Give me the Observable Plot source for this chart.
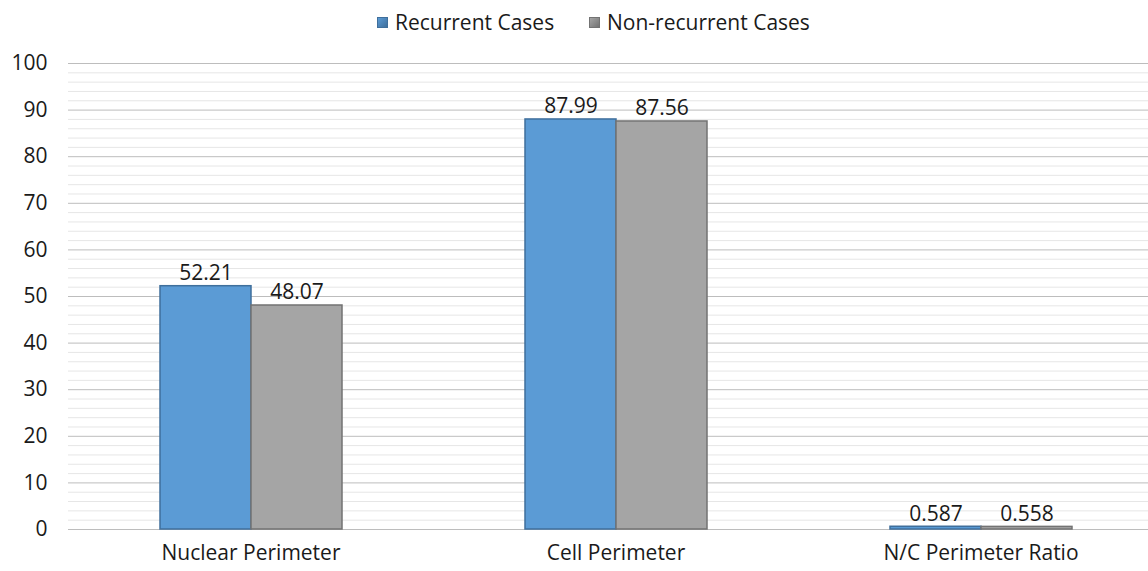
<!DOCTYPE html>
<html>
<head>
<meta charset="utf-8">
<script src="https://cdn.jsdelivr.net/npm/d3@7"></script>
<script src="https://cdn.jsdelivr.net/npm/@observablehq/plot@0.6"></script>
<style>
  html, body { margin: 0; padding: 0; background: #fff; }
  body { width: 1148px; height: 571px; overflow: hidden; font-family: "Open Sans", "Noto Sans", sans-serif; position: relative; }
  #legend { height: 44px; position: relative; font-size: 21px; color: #1a1a1a; }
  .item { position: absolute; top: 10px; display: flex; align-items: center; line-height: 24px; }
  .sw { width: 11px; height: 11px; margin-right: 7px; box-sizing: border-box; }
  #chart svg { max-width: none !important; overflow: visible; }
</style>
</head>
<body>
<div id="legend"></div>
<div id="chart"></div>
<script>
const categories = ["Nuclear Perimeter", "Cell Perimeter", "N/C Perimeter Ratio"];
const series = ["Recurrent Cases", "Non-recurrent Cases"];
const recurrent = [52.21, 87.99, 0.587];
const nonRecurrent = [48.07, 87.56, 0.558];
const recurrentLabels = ["52.21", "87.99", "0.587"];
const nonRecurrentLabels = ["48.07", "87.56", "0.558"];
const yTicks = [0, 10, 20, 30, 40, 50, 60, 70, 80, 90, 100];
const minorTicks = d3.range(0, 101, 2).filter(v => v % 10 !== 0);

const fills = {"Recurrent Cases": "#5b9bd5", "Non-recurrent Cases": "#a5a5a5"};
const strokes = {"Recurrent Cases": "#3f6f9c", "Non-recurrent Cases": "#737373"};
const legendLeft = [377, 589];

const data = [];
categories.forEach((c, i) => {
  data.push({category: c, series: series[0], value: recurrent[i], label: recurrentLabels[i]});
  data.push({category: c, series: series[1], value: nonRecurrent[i], label: nonRecurrentLabels[i]});
});

// legend
const legend = document.getElementById("legend");
series.forEach((s, i) => {
  const it = document.createElement("div");
  it.className = "item";
  it.style.left = legendLeft[i] + "px";
  const sw = document.createElement("div");
  sw.className = "sw";
  sw.style.background = `linear-gradient(135deg, ${fills[s]}, ${strokes[s]})`;
  sw.style.border = `1px solid ${strokes[s]}`;
  const tx = document.createElement("span");
  tx.textContent = s;
  it.appendChild(sw); it.appendChild(tx);
  legend.appendChild(it);
});

const plot = Plot.plot({
  width: 1148,
  height: 527,
  marginTop: 19,
  marginBottom: 42,
  marginLeft: 68,
  marginRight: -15,
  style: {fontFamily: "'Open Sans', 'Noto Sans', sans-serif", fontSize: "21px", color: "#1a1a1a", background: "transparent"},
  fx: {domain: categories, padding: 0, label: null, axis: "bottom", tickSize: 0, tickPadding: 16},
  x: {domain: series, paddingInner: 0, paddingOuter: 1.0, axis: null},
  y: {domain: [0, 100], label: null},
  color: {domain: series, range: series.map(s => fills[s])},
  marks: [
    Plot.ruleY(minorTicks, {stroke: "#e6e6e6", strokeWidth: 1}),
    Plot.ruleY(yTicks, {stroke: "#bdbdbd", strokeWidth: 1}),
    Plot.axisY({ticks: yTicks, tickSize: 0, tickPadding: 21, label: null, fontSize: 21, fx: categories[0], textAnchor: "end"}),
    Plot.barY(data, {fx: "category", x: "series", y: "value", fill: "series",
      stroke: d => strokes[d.series], strokeWidth: 1.5}),
    Plot.text(data, {fx: "category", x: "series", y: "value", text: "label",
      lineAnchor: "bottom", dy: -6, fontSize: 21, fill: "#1a1a1a"})
  ]
});
plot.querySelectorAll("text").forEach(t => { if (!t.getAttribute("font-size")) t.setAttribute("font-size", 21); });
document.getElementById("chart").appendChild(plot);
</script>
</body>
</html>
